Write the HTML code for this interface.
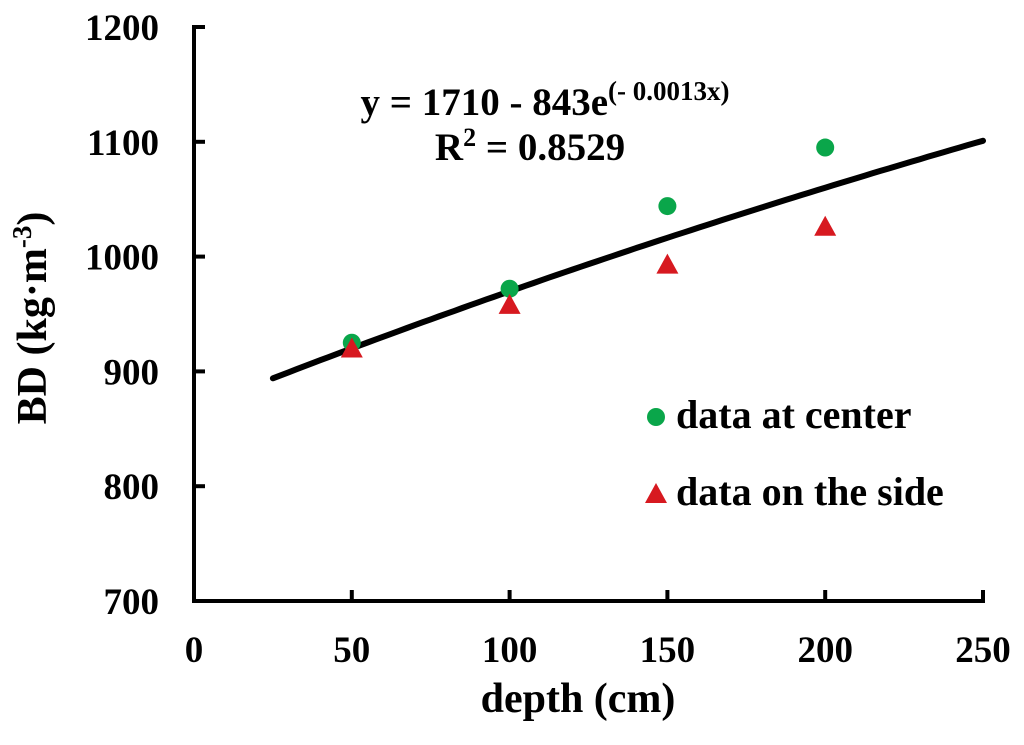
<!DOCTYPE html>
<html><head><meta charset="utf-8"><style>
html,body{margin:0;padding:0;background:#fff}
svg text{font-family:"Liberation Serif",serif;font-weight:bold;fill:#000}
</style></head><body>
<svg id="chart" width="1024" height="740" viewBox="0 0 1024 740" xmlns="http://www.w3.org/2000/svg">
<g id="axes"></g><g id="marks"></g>
<text x="545" y="115" text-anchor="middle" font-size="39">y = 1710 - 843e<tspan font-size="27" dy="-15">(- 0.0013x)</tspan></text>
<text x="530" y="160" text-anchor="middle" font-size="39">R<tspan font-size="26" dy="-14">2</tspan><tspan dy="14"> =  0.8529</tspan></text>
<text x="578" y="712" text-anchor="middle" font-size="42">depth (cm)</text>
<text transform="translate(46,318) rotate(-90)" text-anchor="middle" font-size="42">BD (kg·m<tspan font-size="27" dy="-15">-3</tspan><tspan dy="15">)</tspan></text>
<g>
<circle cx="656" cy="417" r="9" fill="#0aa64a"/>
<text x="676" y="428" font-size="40">data at center</text>
<polygon points="656,483 667,503 645,503" fill="#d71920"/>
<text x="676" y="505" font-size="40">data on the side</text>
</g>
</svg>
<script>
const xTicks=[0,50,100,150,200,250];
const yTicks=[700,800,900,1000,1100,1200];
const depths=[50,100,150,200];
const centerBD=[925,972,1044,1095];
const sideBD=[920,958,993,1026];
const fitA=[1710], fitB=[843], fitK=[0.0013];
const fitRange=[25,250];
const X0=194,X1=983,Y0=601,Y1=27;
const sx=v=>X0+(v-0)/(250-0)*(X1-X0);
const sy=v=>Y0-(v-700)/(1200-700)*(Y0-Y1);
const NS='http://www.w3.org/2000/svg';
const axes=document.getElementById('axes'),marks=document.getElementById('marks');
function mk(tag,parent,attrs){const e=document.createElementNS(NS,tag);for(const k in attrs)e.setAttribute(k,attrs[k]);parent.appendChild(e);return e;}
let e=mk('line',axes,{x1:X0,y1:Y1-2,x2:X0,y2:Y0+2,stroke:'#000','stroke-width':4});


e=mk('line',axes,{x1:X0-2,y1:Y0,x2:X1+2,y2:Y0,stroke:'#000','stroke-width':4});


yTicks.forEach(v=>{
  const t=mk('line',axes,{x1:X0,y1:sy(v),x2:X0+11,y2:sy(v),stroke:'#000','stroke-width':4});
  
  
  const l=mk('text',axes,{x:159,y:sy(v)+13,'text-anchor':'end','font-size':37});
  l.textContent=v;
  
  
});
xTicks.forEach(v=>{
  const t=mk('line',axes,{x1:sx(v),y1:Y0,x2:sx(v),y2:Y0-11,stroke:'#000','stroke-width':4});
  
  
  const l=mk('text',axes,{x:sx(v),y:662,'text-anchor':'middle','font-size':37});
  l.textContent=v;
  
  
});
let d='';
for(let x=fitRange[0];x<=fitRange[1];x+=2.5){const y=fitA[0]-fitB[0]*Math.exp(-fitK[0]*x);d+=(d?'L':'M')+sx(x).toFixed(1)+','+sy(y).toFixed(1);}
e=mk('path',marks,{d:d,fill:'none',stroke:'#000','stroke-width':6,'stroke-linecap':'round'});


depths.forEach((x,i)=>{
  const c=mk('circle',marks,{cx:sx(x),cy:sy(centerBD[i]),r:9,fill:'#0aa64a'});
  
  
});
depths.forEach((x,i)=>{
  const px=sx(x),py=sy(sideBD[i]);
  const p=mk('polygon',marks,{points:`${px},${py-11} ${px+11},${py+9} ${px-11},${py+9}`,fill:'#d71920'});
  
  
});
</script>
</body></html>
